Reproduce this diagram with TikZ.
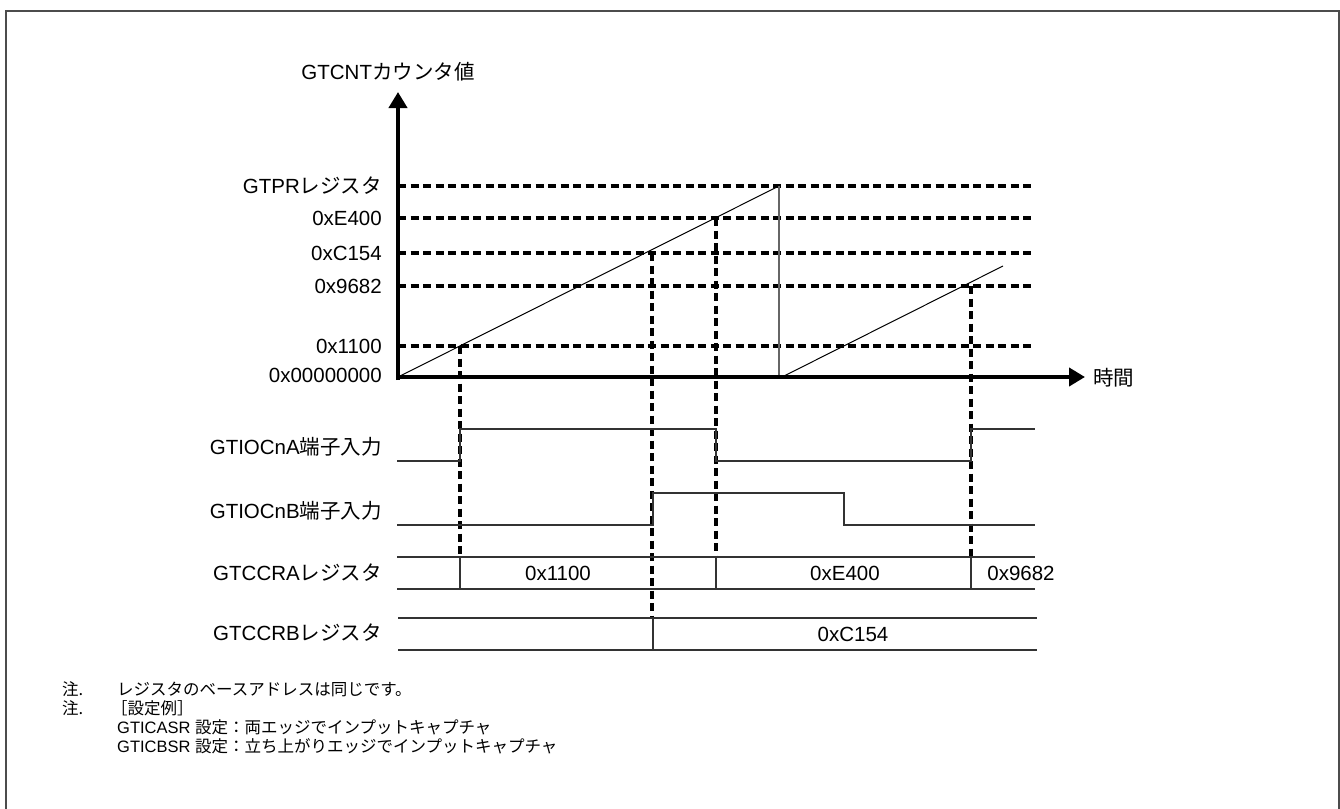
\documentclass[tikz,border=0pt]{standalone}
\usepackage{fontspec}
\setmainfont{Liberation Sans}
\newfontfamily\cjk{Noto Sans CJK JP}
\usetikzlibrary{arrows.meta}
\tikzset{
  lab/.style={inner sep=0pt, font=\fontsize{20.5}{24}\selectfont},
  note/.style={inner sep=0pt, anchor=west, font=\fontsize{16.5}{19}\selectfont},
  axisline/.style={line width=4.2pt, -{Triangle[length=16pt,width=18pt]}},
  lvl/.style={line width=3.4pt, dash pattern=on 8pt off 4.5pt},
  vdash/.style={line width=3.2pt, dash pattern=on 8pt off 4.5pt},
  ramp/.style={line width=1pt},
  wave/.style={line width=1.5pt, black!80},
  frame/.style={line width=2.2pt, black!70}
}
\begin{document}
\begin{tikzpicture}[x=1pt,y=-1pt]
\useasboundingbox (0,0) rectangle (1340,808);
\draw[frame] (6,812) -- (6,11) -- (1339,11) -- (1339,812);

% named points
\coordinate (o) at (398,377);
\coordinate (ytip) at (398,92);
\coordinate (xtip) at (1085,377);

% level dashed lines
\foreach \y in {186,218,253,286,346}
  \draw[lvl] (398,\y) -- (1033,\y);

% ramps
\coordinate (peak) at (779,186);
\coordinate (drop) at (779,377);
\coordinate (r2s) at (782,377);
\coordinate (r2e) at (1003,266);
\draw[ramp] (o) -- (peak);
\draw[line width=1.4pt, black!60] (peak) -- (drop);
\draw[ramp] (r2s) -- (r2e);

% vertical dashed capture lines
\draw[vdash] (460,346) -- (460,557);
\draw[vdash] (652,253) -- (652,618);
\draw[vdash] (716,218) -- (716,557);
\draw[vdash] (971,286) -- (971,557);

% axes
\draw[axisline] (398,380) -- (ytip);
\draw[axisline] (396,377) -- (xtip);

% waveforms
\draw[wave] (397,461) -- (460,461) -- (460,429) -- (716,429) -- (716,461) -- (971,461) -- (971,429) -- (1035,429);
\draw[wave] (397,525) -- (653,525) -- (653,493) -- (844,493) -- (844,525) -- (1035,525);
\draw[wave] (397,557) -- (1035,557);
\draw[wave] (397,589) -- (1035,589);
\foreach \x in {460,716,971} \draw[wave] (\x,557) -- (\x,589);
\draw[wave] (398,618) -- (1037,618);
\draw[wave] (398,650) -- (1037,650);
\draw[wave] (653,618) -- (653,650);

% value labels in register rows
\node[lab] (va1) at (558,573) {0x1100};
\node[lab] (va2) at (845,573) {0xE400};
\node[lab] (va3) at (1021,573) {0x9682};
\node[lab] (vb1) at (853,634) {0xC154};

% axis labels
\node[lab] (title) at (388,72) {GTCNT{\cjk カウンタ値}};
\node[lab, anchor=west] (time) at (1093,378) {\cjk 時間};

\node[lab, anchor=east] (lp) at (382,186) {GTPR{\cjk レジスタ}};
\node[lab, anchor=east] (le) at (382,218) {0xE400};
\node[lab, anchor=east] (lc) at (382,253) {0xC154};
\node[lab, anchor=east] (l9) at (382,286) {0x9682};
\node[lab, anchor=east] (l1) at (382,346) {0x1100};
\node[lab, anchor=east] (l0) at (382,375) {0x00000000};

\node[lab, anchor=east] (ra) at (382,447) {GTIOCnA{\cjk 端子入力}};
\node[lab, anchor=east] (rb) at (382,511) {GTIOCnB{\cjk 端子入力}};
\node[lab, anchor=east] (rca) at (382,573) {GTCCRA{\cjk レジスタ}};
\node[lab, anchor=east] (rcb) at (382,633) {GTCCRB{\cjk レジスタ}};

% notes
\node[note] (n1) at (62,689) {\cjk 注.};
\node[note] (n1t) at (117,689) {\cjk レジスタのベースアドレスは同じです。};
\node[note] (n2) at (62,708) {\cjk 注.};
\node[note] (n2t) at (111,708) {\cjk ［設定例］};
\node[note] (n3t) at (117,727) {GTICASR {\cjk 設定：両エッジでインプットキャプチャ}};
\node[note] (n4t) at (117,746) {GTICBSR {\cjk 設定：立ち上がりエッジでインプットキャプチャ}};
\end{tikzpicture}
\end{document}
